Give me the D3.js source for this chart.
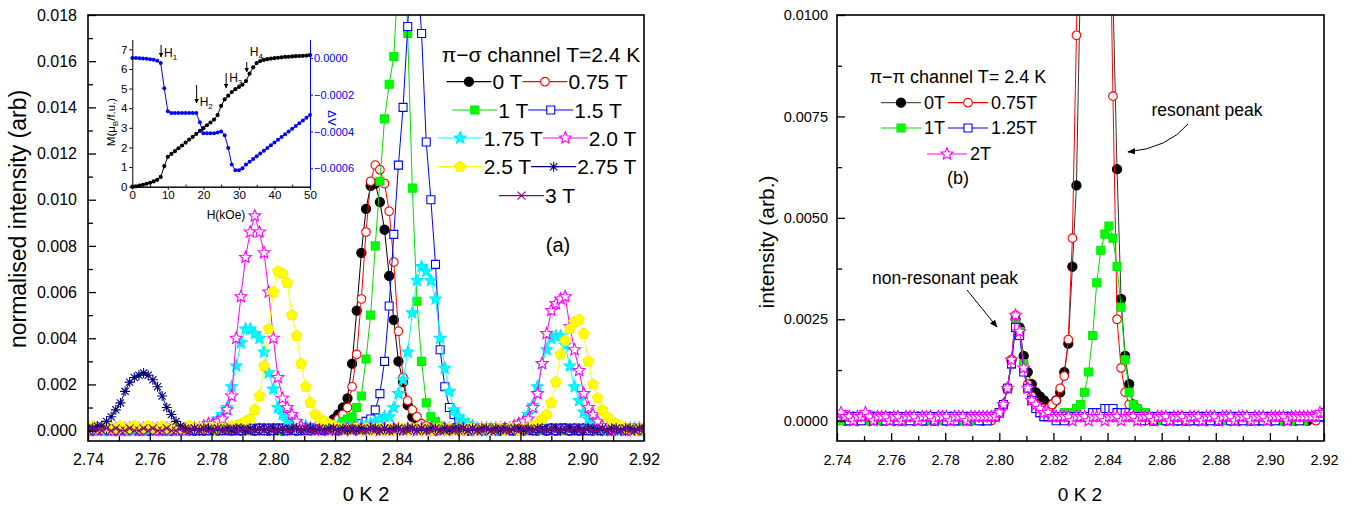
<!DOCTYPE html>
<html><head><meta charset="utf-8">
<script src="https://cdn.jsdelivr.net/npm/d3@7"></script>
<style>
body{margin:0;background:#fff}
svg{display:block;font-family:"Liberation Sans",Arial,Helvetica,sans-serif}
</style>
</head><body>
<svg id="c" width="1362" height="506"></svg>
<script>
// ---------------- DATA ----------------
// Scan positions along (0 K L): 121 samples from 2.740 to 2.920 (step 0.0015)
const gridStart = 2.74, gridStep = 0.0015, gridCount = 121;
const kGrid = d3.range(gridCount).map(i => +(gridStart + gridStep * i).toFixed(4));

const xTickValues = [2.74, 2.76, 2.78, 2.80, 2.82, 2.84, 2.86, 2.88, 2.90, 2.92];
const leftYTickValues = [0, 0.002, 0.004, 0.006, 0.008, 0.010, 0.012, 0.014, 0.016, 0.018];
const rightYTickValues = [0, 0.0025, 0.005, 0.0075, 0.01];

// ---- panel (a): pi-sigma channel, T = 2.4 K ----
const leftLabels = ["0 T", "0.75 T", "1 T", "1.5 T", "1.75 T", "2.0 T", "2.5 T", "2.75 T", "3 T"];
const sigma_0T = [
.0001,0,.0001,.0001,0,.0001,0,.0001,.0001,0,
.0001,0,.0001,0,.0001,.0001,0,.0001,0,.0001,
0,.0001,.0001,0,.0001,0,.0001,.0001,0,.0001,
.0001,0,.0001,0,.0001,.0001,0,.0001,.0001,0,
.0001,.0001,0,.0001,.0001,0,.0001,.0001,.0001,.0001,
.0001,.0002,.0003,.0005,.0007,.001,.0014,.0029,.0052,.0077,
.0096,.0106,.0107,.0099,.0087,.0067,.0048,.003,.0021,.0011,
.0006,.0003,.0002,.0001,.0001,0,.0001,0,.0001,.0001,
0,.0001,0,.0001,.0001,0,.0001,0,.0001,0,
.0001,.0001,0,.0001,0,.0001,.0001,0,.0001,0,
.0001,0,.0001,.0001,0,.0001,0,.0001,.0001,0,
.0001,0,.0001,0,.0001,.0001,0,.0001,0,.0001,
.0001];
const sigma_075T = [
0,.0001,0,.0001,.0001,0,.0001,0,0,.0001,
.0001,0,0,.0001,0,.0001,.0001,0,.0001,0,
.0001,0,.0001,0,0,.0001,0,.0001,0,.0001,
0,.0001,0,.0001,0,0,.0001,0,.0001,.0001,
0,.0001,.0001,0,.0001,0,.0001,.0001,0,.0001,
.0001,.0001,.0002,.0003,.0005,.0007,.001,.0019,.0033,.0057,
.0086,.0108,.0115,.0113,.0107,.0095,.0073,.0043,.0023,.0013,
.0009,.0006,.0003,.0002,.0001,0,.0001,.0001,0,.0001,
.0001,0,.0001,0,.0001,.0001,0,.0001,0,0,
.0001,0,.0001,.0001,0,.0001,0,.0001,.0001,0,
.0001,.0001,0,.0001,0,.0001,0,.0001,0,.0001,
0,.0001,.0001,0,.0001,0,.0001,.0001,0,.0001,
0];
const sigma_1T = [
.0001,.0001,0,.0001,0,.0001,.0001,0,.0001,0,
0,.0001,.0001,0,.0001,0,.0001,0,.0001,.0001,
0,.0001,0,.0001,.0001,0,.0001,0,.0001,0,
.0001,0,.0001,.0001,0,.0001,0,.0001,0,.0001,
.0001,0,.0001,0,.0001,.0001,0,.0001,0,.0001,
.0001,.0001,.0001,.0001,.0002,.0004,.0005,.0006,.001,.0015,
.0031,.005,.008,.0108,.0135,.015,.0162,.02,.023,.0172,
.0105,.0056,.003,.0012,.0006,.0004,.0002,.0001,0,.0001,
0,.0001,.0001,0,.0001,0,.0001,.0001,0,.0001,
0,.0001,0,.0001,.0001,0,.0001,0,.0001,.0001,
0,.0001,0,.0001,0,.0001,.0001,0,.0001,0,
.0001,.0001,0,.0001,0,.0001,0,.0001,.0001,0,
.0001];
const sigma_15T = [
0,.0001,.0001,0,.0001,0,.0001,.0001,0,.0001,
.0001,0,.0001,0,0,.0001,.0001,0,.0001,0,
.0001,.0001,0,.0001,0,.0001,0,.0001,.0001,0,
.0001,0,.0001,0,.0001,.0001,0,.0001,0,.0001,
0,.0001,.0001,0,.0001,0,.0001,0,.0001,.0001,
.0001,0,.0001,.0001,0,.0001,.0001,.0001,.0002,.0003,
.0004,.0005,.0009,.0016,.003,.0054,.0085,.0115,.014,.0175,
.021,.02,.0172,.0125,.01,.0072,.0035,.0019,.001,.0007,
.0005,.0003,.0002,.0001,.0001,0,.0001,.0001,0,.0001,
.0001,0,.0001,0,.0001,.0001,0,.0001,.0001,0,
.0001,0,.0001,.0001,0,.0001,0,.0001,0,.0001,
.0001,0,.0001,0,.0001,.0001,0,.0001,0,.0001,
0];
const sigma_175T = [
.0001,0,.0001,0,.0001,.0001,0,.0001,0,.0001,
0,.0001,.0001,0,.0001,0,.0001,.0001,0,.0001,
0,.0001,.0001,.0001,.0001,.0001,.0002,.0003,.0005,.0007,
.001,.0019,.0028,.0038,.0044,.0044,.0042,.004,.0034,.0025,
.0018,.001,.0007,.0004,.0003,.0002,.0001,.0002,.0001,.0001,
.0001,.0002,.0001,.0001,.0002,.0001,.0002,.0001,.0002,.0002,
.0002,.0003,.0004,.0005,.0006,.0006,.001,.0016,.0022,.0034,
.0051,.0065,.0071,.0069,.0065,.0057,.004,.0027,.0017,.0009,
.0006,.0004,.0003,.0002,.0001,.0001,0,.0001,.0001,0,
.0001,.0001,.0002,.0003,.0004,.0007,.0011,.0019,.0029,.0035,
.004,.0041,.0041,.0037,.0028,.0019,.0013,.0008,.0005,.0003,
.0002,.0001,0,.0001,.0001,0,.0001,0,.0001,.0001,
0];
const sigma_20T = [
0,.0001,0,.0001,.0001,0,.0001,0,.0001,.0001,
.0001,0,.0001,.0001,0,.0001,0,.0001,.0001,0,
.0001,0,.0001,.0001,.0001,.0002,.0003,.0003,.0004,.0005,
.0009,.0015,.004,.0058,.0075,.0086,.0093,.0086,.0077,.006,
.004,.0023,.0014,.001,.0007,.0004,.0002,.0001,.0001,0,
.0001,.0001,0,.0001,.0001,0,.0001,0,.0001,.0001,
0,.0001,.0001,0,.0001,0,.0001,.0001,0,.0001,
.0001,0,.0001,0,.0001,.0001,0,.0001,.0001,0,
.0001,.0001,0,.0001,0,.0001,.0001,0,.0001,.0001,
.0001,.0001,.0002,.0003,.0004,.0005,.001,.0016,.0029,.0042,
.0052,.0055,.0057,.0058,.0045,.0035,.0026,.0016,.001,.0007,
.0004,.0002,.0001,0,.0001,.0001,0,.0001,0,.0001,
.0001];
const sigma_25T = [
.0001,.0002,.0001,.0001,.0002,.0001,.0001,.0002,.0001,.0001,
.0002,.0001,.0001,.0002,.0001,.0001,.0002,.0001,.0001,.0002,
.0001,.0001,.0002,.0001,.0001,.0001,.0001,.0001,.0001,.0001,
.0001,.0002,.0002,.0003,.0004,.0005,.0009,.0015,.0028,.0044,
.006,.0069,.0068,.0064,.005,.0041,.0029,.0019,.0012,.0007,
.0005,.0004,.0003,.0002,.0001,.0001,0,.0001,.0001,0,
.0001,0,.0001,.0001,0,.0001,0,.0001,.0001,0,
.0001,.0001,0,.0001,0,.0001,.0001,0,.0001,0,
.0001,0,.0001,.0001,0,.0001,.0001,0,.0001,.0001,
0,.0001,.0001,0,.0001,.0001,.0002,.0003,.0005,.0007,
.0012,.0021,.0033,.0039,.0044,.0047,.0048,.0042,.003,.002,
.0014,.0009,.0006,.0004,.0003,.0002,.0001,.0001,0,.0001,
.0001];
const sigma_275T = [
.0001,.0001,.0002,.0002,.0004,.0006,.0009,.0012,.0017,.0021,
.0023,.0024,.0025,.0024,.0022,.0019,.0015,.001,.0007,.0004,
.0002,.0001,0,.0001,0,.0001,.0001,0,.0001,0,
.0001,0,.0001,.0001,0,.0001,0,.0001,0,.0001,
.0001,0,.0001,0,.0001,.0001,0,.0001,.0001,0,
.0001,0,.0001,.0001,0,.0001,0,.0001,0,.0001,
0,.0001,.0001,0,.0001,0,.0001,.0001,0,.0001,
.0001,0,.0001,0,.0001,.0001,0,.0001,0,.0001,
.0001,.0001,0,.0001,0,.0001,.0001,0,.0001,0,
.0001,0,.0001,.0001,0,.0001,0,.0001,.0001,0,
.0001,.0001,0,.0001,.0001,0,.0001,0,.0001,.0001,
0,.0001,0,.0001,.0001,0,.0001,.0001,0,.0001,
.0001];
const sigma_3T = [
0,.0001,0,0,.0001,0,.0001,0,0,.0001,
0,0,.0001,0,.0001,0,0,.0001,0,0,
.0001,0,0,.0001,0,.0001,0,0,.0001,0,
0,.0001,0,0,.0001,0,0,.0001,0,.0001,
0,0,.0001,0,0,.0001,0,.0001,0,0,
.0001,0,0,.0001,0,0,.0001,0,.0001,0,
0,.0001,0,0,.0001,0,0,.0001,0,0,
.0001,0,.0001,0,0,.0001,0,0,.0001,0,
0,.0001,0,.0001,0,0,.0001,0,0,.0001,
0,0,.0001,0,.0001,0,0,.0001,0,0,
.0001,0,0,.0001,0,.0001,0,0,.0001,0,
0,.0001,0,0,.0001,0,.0001,0,0,.0001,
0];

// ---- panel (b): pi-pi channel, T = 2.4 K ----
const rightLabels = ["0T", "0.75T", "1T", "1.25T", "2T"];
const pi_0T = [
.0001,.0001,0,.0001,.0001,0,.0001,.0001,0,.0001,
.0001,0,.0001,.0001,0,.0001,0,.0001,.0001,0,
.0001,.0001,0,.0001,0,.0001,.0001,0,.0001,.0001,
0,.0001,.0001,0,.0001,.0001,0,.0001,.0001,.0001,
.0002,.0004,.0008,.0015,.0025,.0023,.0016,.0012,.0009,.0007,
.0006,.0005,.0004,.0004,.0005,.0007,.0012,.0019,.0038,.0058,
.011,.017,.022,.024,.024,.022,.018,.016,.0105,.0062,
.003,.0016,.0009,.0004,.0003,.0002,.0001,.0001,0,.0001,
.0001,0,.0001,.0001,0,.0001,0,.0001,.0001,0,
.0001,0,.0001,.0001,0,.0001,.0001,0,.0001,0,
.0001,.0001,0,.0001,0,.0001,.0001,0,.0001,.0001,
0,.0001,.0001,0,.0001,.0001,0,.0001,.0001,.0001,
.0001];
const pi_075T = [
0,.0001,.0001,0,.0001,0,.0001,.0001,0,.0001,
.0001,.0001,0,.0001,0,.0001,.0001,0,.0001,0,
.0001,0,.0001,.0001,0,.0001,0,.0001,.0001,0,
.0001,.0001,0,.0001,.0001,0,.0001,.0001,0,.0001,
.0002,.0004,.0008,.0015,.0026,.0022,.0014,.0009,.0006,.0004,
.0003,.0003,.0003,.0004,.0005,.0008,.0011,.002,.0045,.0095,
.015,.021,.025,.026,.025,.022,.019,.014,.008,.0025,
.0013,.0007,.0004,.0002,.0001,.0001,0,.0001,.0001,0,
.0001,.0001,0,.0001,0,.0001,.0001,0,.0001,.0001,
0,.0001,.0001,0,.0001,0,.0001,.0001,0,.0001,
.0001,0,.0001,.0001,0,.0001,.0001,0,.0001,0,
.0001,.0001,0,.0001,.0001,0,.0001,.0001,0,.0001,
.0001];
const pi_1T = [
.0001,0,.0001,.0001,0,.0001,.0001,0,.0001,.0001,
0,.0001,.0001,0,.0001,.0001,0,.0001,0,.0001,
.0001,0,.0001,0,.0001,.0001,0,.0001,.0001,0,
.0001,0,.0001,.0001,0,.0001,.0001,0,.0001,.0001,
.0002,.0004,.0008,.0014,.0024,.0022,.0014,.0008,.0005,.0003,
.0002,.0001,.0001,.0001,.0001,.0001,.0002,.0002,.0002,.0003,
.0004,.0007,.0012,.0021,.0034,.0042,.0046,.0048,.0045,.0038,
.0028,.0015,.0007,.0004,.0003,.0002,.0002,.0001,.0001,0,
.0001,.0001,0,.0001,.0001,0,.0001,0,.0001,.0001,
0,.0001,.0001,0,.0001,.0001,0,.0001,0,.0001,
.0001,0,.0001,.0001,0,.0001,.0001,0,.0001,.0001,
0,.0001,.0001,0,.0001,0,.0001,.0001,.0001,.0001,
.0002];
const pi_125T = [
.0001,.0001,.0001,0,.0001,.0001,0,.0001,.0001,0,
.0001,.0001,0,.0001,.0001,0,.0001,.0001,0,.0001,
.0001,0,.0001,.0001,0,.0001,.0001,0,.0001,0,
.0001,.0001,0,.0001,.0001,0,.0001,0,.0001,.0001,
.0002,.0004,.0008,.0014,.0023,.0021,.0012,.0008,.0005,.0003,
.0002,.0001,.0001,.0001,0,.0001,0,.0001,.0001,.0001,
.0001,.0001,.0001,.0002,.0002,.0002,.0003,.0003,.0003,.0002,
.0002,.0002,.0001,.0001,.0001,0,.0001,.0001,0,.0001,
.0001,0,.0001,.0001,0,.0001,.0001,0,.0001,0,
.0001,.0001,0,.0001,0,.0001,.0001,0,.0001,.0001,
0,.0001,.0001,0,.0001,0,.0001,.0001,0,.0001,
.0001,0,.0001,.0001,0,.0001,.0001,.0001,.0001,.0001,
.0002];
const pi_2T = [
.0001,.0002,.0001,.0001,0,.0001,.0001,.0002,.0001,0,
.0001,.0001,.0001,0,.0001,.0001,0,.0001,.0001,.0001,
0,.0001,.0001,.0001,0,.0001,.0001,.0001,0,.0001,
.0001,.0001,0,.0001,.0001,.0001,.0001,.0001,.0001,.0001,
.0002,.0004,.0008,.0015,.0026,.0022,.0013,.0008,.0005,.0004,
.0003,.0002,.0002,.0001,.0001,.0001,.0001,.0001,0,.0001,
.0001,.0001,0,.0001,.0001,.0001,0,.0001,.0001,.0001,
0,.0001,.0001,.0001,0,.0001,.0001,.0001,0,.0001,
.0001,.0001,0,.0001,.0001,.0001,0,.0001,.0001,.0001,
0,.0001,.0001,.0001,0,.0001,.0001,.0001,0,.0001,
.0001,.0001,0,.0001,.0001,.0001,0,.0001,.0001,.0001,
.0001,0,.0001,.0001,.0001,.0001,.0001,.0001,.0001,.0002,
.0002];

// ---- inset: magnetisation M(H) and dV(H) ----
const insetH = d3.range(0, 51, 1); // field in kOe, 0..50
const insetM = [0,.02,.05,.1,.15,.2,.27,.35,.5,1.05,
1.52,1.67,1.81,1.96,2.1,2.25,2.4,2.54,2.69,2.84,
2.98,3.13,3.27,3.42,3.65,4.12,4.45,4.64,4.82,4.97,
5.08,5.2,5.38,5.76,6.08,6.3,6.4,6.46,6.5,6.53,
6.55,6.57,6.59,6.61,6.62,6.64,6.65,6.66,6.67,6.68,6.7];
const insetDV = [0,0,-.000002,-.000003,-.000005,-.000007,-.00001,-.000015,-.000028,-.000165,
-.00029,-.0003,-.0003,-.0003,-.0003,-.0003,-.0003,-.0003,-.0003,-.00035,
-.00041,-.00041,-.00041,-.00041,-.000405,-.0004,-.00042,-.00049,-.00058,-.00061,
-.00061,-.0006,-.00058,-.000565,-.00055,-.000535,-.00052,-.000505,-.00049,-.000475,
-.00046,-.000445,-.00043,-.000415,-.0004,-.000385,-.00037,-.000355,-.00034,-.000325,-.00031];
const insetXTicks = [0, 10, 20, 30, 40, 50];
const insetLTicks = [0, 1, 2, 3, 4, 5, 6, 7];
const insetRTicks = [0, -0.0002, -0.0004, -0.0006];
const insetArrows = [{H: 8.1, lab: "1"}, {H: 18.1, lab: "2"}, {H: 26.4, lab: "3"}, {H: 32.2, lab: "4"}];

// ---------------- DRAWING ----------------
const svg = d3.select("#c");
const FONT = '"Liberation Sans",Arial,Helvetica,sans-serif';
const defs = svg.append("defs");
defs.append("marker").attr("id", "ah").attr("viewBox", "0 0 10 10").attr("refX", 9).attr("refY", 5)
  .attr("markerWidth", 8).attr("markerHeight", 8).attr("markerUnits", "userSpaceOnUse").attr("orient", "auto")
  .append("path").attr("d", "M0,1L10,5L0,9Z").attr("fill", "#000");
defs.append("marker").attr("id", "ahs").attr("viewBox", "0 0 10 10").attr("refX", 9).attr("refY", 5)
  .attr("markerWidth", 4.5).attr("markerHeight", 4.5).attr("markerUnits", "userSpaceOnUse").attr("orient", "auto")
  .append("path").attr("d", "M0,0L10,5L0,10Z").attr("fill", "#000");

function shapePath(shape, r) {
  if (shape === "circle") return d3.symbol(d3.symbolCircle, Math.PI * r * r)();
  if (shape === "square") return `M${-r},${-r}h${2*r}v${2*r}h${-2*r}Z`;
  if (shape === "star") {
    const p = [];
    for (let k = 0; k < 10; k++) { const a = -Math.PI/2 + k*Math.PI/5, rr = k % 2 ? r*0.45 : r; p.push([rr*Math.cos(a), rr*Math.sin(a)]); }
    return "M" + p.join("L") + "Z";
  }
  if (shape === "pentagon") {
    const p = [];
    for (let k = 0; k < 5; k++) { const a = -Math.PI/2 + k*2*Math.PI/5; p.push([r*Math.cos(a), r*Math.sin(a)]); }
    return "M" + p.join("L") + "Z";
  }
  const a = r * 0.72;
  if (shape === "asterisk") return `M${-r},0H${r}M0,${-r}V${r}M${-a},${-a}L${a},${a}M${-a},${a}L${a},${-a}`;
  if (shape === "times") return `M${-r},${-r}L${r},${r}M${-r},${r}L${r},${-r}`;
}

const leftStyles = [
  {shape: "circle", r: 4.6, fill: "#000", stroke: "#000", line: "#000"},
  {shape: "circle", r: 4.3, fill: "#fff", stroke: "#ff0000", line: "#ff0000"},
  {shape: "square", r: 4, fill: "#00ff00", stroke: "#00ee00", line: "#00dd00"},
  {shape: "square", r: 4, fill: "#fff", stroke: "#0000ff", line: "#0000ff"},
  {shape: "star", r: 6.2, fill: "#00ffff", stroke: "#00e8ff", line: "#00ffff"},
  {shape: "star", r: 6.2, fill: "#fff", stroke: "#ff00ff", line: "#ff00ff"},
  {shape: "pentagon", r: 5.6, fill: "#ffff00", stroke: "#ffee00", line: "#ffff00"},
  {shape: "asterisk", r: 5, fill: "none", stroke: "#000080", line: "#000080"},
  {shape: "times", r: 4, fill: "none", stroke: "#800080", line: "#800080"}
];
const rightStyles = [
  {shape: "circle", r: 4.6, fill: "#000", stroke: "#000", line: "#333", legendLine: "#555"},
  {shape: "circle", r: 4.3, fill: "#fff", stroke: "#ff0000", line: "#ff0000"},
  {shape: "square", r: 4, fill: "#00ff00", stroke: "#00ee00", line: "#00dd00"},
  {shape: "square", r: 4, fill: "#fff", stroke: "#0000ff", line: "#0000ff"},
  {shape: "star", r: 6.2, fill: "#fff", stroke: "#ff00ff", line: "#ff00ff"}
];

function drawPanel(cfg) {
  const {x, y, series, styles, id} = cfg;
  const [x0, x1] = x.range(), [y1, y0] = y.range();
  defs.append("clipPath").attr("id", id).append("rect")
    .attr("x", x0).attr("y", y0).attr("width", x1 - x0).attr("height", y1 - y0);
  const g = svg.append("g").attr("clip-path", `url(#${id})`);
  series.forEach((vals, si) => {
    const st = styles[si];
    const pts = vals.map((v, i) => [kGrid[i], v]);
    const sg = g.append("g");
    sg.append("path").datum(pts)
      .attr("d", d3.line().x(d => x(d[0])).y(d => y(d[1])))
      .attr("fill", "none").attr("stroke", st.line).attr("stroke-width", 1);
    sg.selectAll("path.m").data(pts).join("path").attr("class", "m")
      .attr("d", shapePath(st.shape, st.r))
      .attr("transform", d => `translate(${x(d[0])},${y(d[1])})`)
      .attr("fill", st.fill).attr("stroke", st.stroke).attr("stroke-width", 1.1);
  });
}

function drawAxes(cfg) {
  const {x, y, yTicks, yMinor, xMinor, yFmt, yFont, xFont, xPad, yPad} = cfg;
  const [x0, x1] = x.range(), [y1, y0] = y.range();
  const ax = svg.append("g");
  const gy = ax.append("g").attr("transform", `translate(${x0},0)`)
    .call(d3.axisLeft(y).tickValues(yTicks).tickFormat(yFmt).tickSize(-8).tickSizeOuter(0).tickPadding(yPad));
  gy.select(".domain").remove();
  gy.selectAll("text").attr("font-size", yFont).attr("font-family", FONT).attr("fill", "#000");
  gy.selectAll("line").attr("stroke-width", 1.3);
  const gym = ax.append("g").attr("transform", `translate(${x0},0)`)
    .call(d3.axisLeft(y).tickValues(yMinor).tickFormat("").tickSize(-5).tickSizeOuter(0));
  gym.select(".domain").remove();
  gym.selectAll("line").attr("stroke-width", 1.3);
  const gx = ax.append("g").attr("transform", `translate(0,${y1})`)
    .call(d3.axisBottom(x).tickValues(xTickValues).tickFormat(d3.format(".2f")).tickSize(-8).tickSizeOuter(0).tickPadding(xPad));
  gx.select(".domain").remove();
  gx.selectAll("text").attr("font-size", xFont).attr("font-family", FONT).attr("fill", "#000");
  gx.selectAll("line").attr("stroke-width", 1.3);
  const gxm = ax.append("g").attr("transform", `translate(0,${y1})`)
    .call(d3.axisBottom(x).tickValues(xMinor).tickFormat("").tickSize(-5).tickSizeOuter(0));
  gxm.select(".domain").remove();
  gxm.selectAll("line").attr("stroke-width", 1.3);
  ax.append("rect").attr("x", x0).attr("y", y0).attr("width", x1 - x0).attr("height", y1 - y0)
    .attr("fill", "none").attr("stroke", "#000").attr("stroke-width", 1.6);
}

function legendRow(g, items, cx, cy, o) {
  const row = g.append("g");
  let xx = 0;
  items.forEach(it => {
    const st = it.style;
    row.append("line").attr("x1", xx).attr("x2", xx + o.line).attr("y1", 0).attr("y2", 0)
      .attr("stroke", st.legendLine || st.line).attr("stroke-width", 1.2);
    row.append("path").attr("d", shapePath(st.shape, st.r)).attr("transform", `translate(${xx + o.line/2},0)`)
      .attr("fill", st.fill).attr("stroke", st.stroke).attr("stroke-width", 1.1);
    xx += o.line + o.gap;
    const t = row.append("text").attr("x", xx).attr("y", o.fs * 0.36).attr("font-size", o.fs).text(it.label);
    xx += t.node().getComputedTextLength() + o.after;
  });
  row.attr("transform", `translate(${cx - (xx - o.after)/2},${cy})`);
}

// ---- panel (a) ----
const xL = d3.scaleLinear([2.74, 2.92], [88, 644]);
const yL = d3.scaleLinear([-0.00045, 0.018], [441, 15]);
drawPanel({x: xL, y: yL, id: "clipL", styles: leftStyles,
  series: [sigma_0T, sigma_075T, sigma_1T, sigma_15T, sigma_175T, sigma_20T, sigma_25T, sigma_275T, sigma_3T]});
drawAxes({x: xL, y: yL, yTicks: leftYTickValues, yMinor: [0.001,0.003,0.005,0.007,0.009,0.011,0.013,0.015,0.017],
  xMinor: [2.75,2.77,2.79,2.81,2.83,2.85,2.87,2.89,2.91], yFmt: d3.format(".3f"), yFont: 16, xFont: 16, xPad: 13, yPad: 11});
svg.append("text").attr("transform", "translate(26,219) rotate(-90)").attr("text-anchor", "middle")
  .attr("font-size", 23).text("normalised intensity (arb)");
svg.append("text").attr("x", 366).attr("y", 501).attr("text-anchor", "middle").attr("font-size", 20).text("0 K 2");

// legend (a)
const legA = svg.append("g").attr("font-family", FONT);
legA.append("text").attr("x", 541).attr("y", 62).attr("text-anchor", "middle").attr("font-size", 21).text("π−σ channel T=2.4 K");
const rowsA = [[0, 1], [2, 3], [4, 5], [6, 7], [8]];
const rowYA = [81.7, 110, 138, 166.7, 195.7];
rowsA.forEach((r, ri) => legendRow(legA, r.map(i => ({style: leftStyles[i], label: leftLabels[i]})), 537, rowYA[ri],
  {line: 45, gap: 1, after: 0, fs: 21}));
svg.append("text").attr("x", 558).attr("y", 252).attr("text-anchor", "middle").attr("font-size", 20).text("(a)");

// ---- inset ----
const inX = d3.scaleLinear([0, 50], [132.3, 310]);
const inYL = d3.scaleLinear([0, 7.5], [186.7, 39.5]);
const inYR = d3.scaleLinear([-0.0007, 0.0001], [186.7, 39.5]);
const ins = svg.append("g").attr("font-family", FONT);
ins.append("path").datum(insetH.map((h, i) => [h, insetDV[i]]))
  .attr("d", d3.line().x(d => inX(d[0])).y(d => inYR(d[1]))).attr("fill", "none").attr("stroke", "#0000ff").attr("stroke-width", 1);
ins.selectAll("circle.b").data(insetH.map((h, i) => [h, insetDV[i]])).join("circle").attr("class", "b")
  .attr("cx", d => inX(d[0])).attr("cy", d => inYR(d[1])).attr("r", 2).attr("fill", "#0000ff");
ins.append("path").datum(insetH.map((h, i) => [h, insetM[i]]))
  .attr("d", d3.line().x(d => inX(d[0])).y(d => inYL(d[1]))).attr("fill", "none").attr("stroke", "#000").attr("stroke-width", 1);
ins.selectAll("circle.k").data(insetH.map((h, i) => [h, insetM[i]])).join("circle").attr("class", "k")
  .attr("cx", d => inX(d[0])).attr("cy", d => inYL(d[1])).attr("r", 2.1).attr("fill", "#000");
// inset axes
const iaL = ins.append("g").attr("transform", "translate(132.3,0)")
  .call(d3.axisLeft(inYL).tickValues(insetLTicks).tickFormat(d3.format("d")).tickSize(3).tickSizeOuter(0).tickPadding(2));
const iaB = ins.append("g").attr("transform", "translate(0,186.7)")
  .call(d3.axisBottom(inX).tickValues(insetXTicks).tickFormat(d3.format("d")).tickSize(3).tickSizeOuter(0).tickPadding(1));
const iaBm = ins.append("g").attr("transform", "translate(0,186.7)")
  .call(d3.axisBottom(inX).tickValues([5,15,25,35,45]).tickFormat("").tickSize(-2).tickSizeOuter(0));
const iaR = ins.append("g").attr("transform", "translate(310,0)")
  .call(d3.axisRight(inYR).tickValues(insetRTicks).tickFormat(d3.format(".4f")).tickSize(3).tickSizeOuter(0).tickPadding(1));
[iaL, iaB, iaBm].forEach(a => { a.selectAll("text").attr("font-size", 11.5).attr("font-family", FONT).attr("fill", "#000"); a.selectAll("path,line").attr("stroke", "#000"); });
iaR.selectAll("text").attr("font-size", 11).attr("font-family", FONT).attr("fill", "#0000ff");
iaR.selectAll("path,line").attr("stroke", "#0000ff");
ins.append("text").attr("x", 226).attr("y", 219).attr("text-anchor", "middle").attr("font-size", 12).text("H(kOe)");
const mt = ins.append("text").attr("transform", "translate(115,122) rotate(-90)").attr("text-anchor", "middle").attr("font-size", 11.5);
mt.append("tspan").text("M(μ");
mt.append("tspan").attr("dy", 2.5).attr("font-size", 8).text("B");
mt.append("tspan").attr("dy", -2.5).text("/f.u.)");
ins.append("text").attr("transform", "translate(328,118) rotate(90)").attr("text-anchor", "middle")
  .attr("font-size", 11.5).attr("fill", "#0000ff").text("ΔV");
// field markers H1..H4
const arrowGeom = [[45, 57, 57], [85, 103, 106], [73, 88, 82], [62, 72, 56]];
insetArrows.forEach((a, i) => {
  const [ya, yb, ty] = arrowGeom[i];
  const xa = inX(a.H);
  ins.append("line").attr("x1", xa).attr("x2", xa).attr("y1", ya).attr("y2", yb)
    .attr("stroke", "#000").attr("stroke-width", 1).attr("marker-end", "url(#ahs)");
  const t = ins.append("text").attr("x", xa + 3).attr("y", ty).attr("font-size", 12);
  t.append("tspan").text("H");
  t.append("tspan").attr("dy", 3).attr("font-size", 8).text(a.lab);
});

// ---- panel (b) ----
const xR = d3.scaleLinear([2.74, 2.92], [837, 1324]);
const yR = d3.scaleLinear([-0.0005, 0.01], [441, 15]);
drawPanel({x: xR, y: yR, id: "clipR", styles: rightStyles, series: [pi_0T, pi_075T, pi_1T, pi_125T, pi_2T]});
drawAxes({x: xR, y: yR, yTicks: rightYTickValues, yMinor: [0.00125, 0.00375, 0.00625, 0.00875],
  xMinor: [2.75,2.77,2.79,2.81,2.83,2.85,2.87,2.89,2.91], yFmt: d3.format(".4f"), yFont: 14.5, xFont: 14.5, xPad: 14, yPad: 9});
svg.append("text").attr("transform", "translate(774,242) rotate(-90)").attr("text-anchor", "middle")
  .attr("font-size", 21).text("intensity (arb.)");
svg.append("text").attr("x", 1080).attr("y", 501).attr("text-anchor", "middle").attr("font-size", 19).text("0 K 2");

const legB = svg.append("g").attr("font-family", FONT);
legB.append("text").attr("x", 958).attr("y", 83).attr("text-anchor", "middle").attr("font-size", 18).text("π−π channel T= 2.4 K");
const rowsB = [[0, 1], [2, 3], [4]];
const rowYB = [102.7, 128, 154];
rowsB.forEach((r, ri) => legendRow(legB, r.map(i => ({style: rightStyles[i], label: rightLabels[i]})), 959, rowYB[ri],
  {line: 40, gap: 3, after: 3, fs: 18}));
legB.append("text").attr("x", 958).attr("y", 184).attr("text-anchor", "middle").attr("font-size", 18).text("(b)");

// annotations
svg.append("text").attr("x", 1207).attr("y", 116).attr("text-anchor", "middle").attr("font-size", 17.5).text("resonant peak");
svg.append("path").attr("d", "M1188,124 Q1168,148 1128,152").attr("fill", "none").attr("stroke", "#000")
  .attr("stroke-width", 1).attr("marker-end", "url(#ah)");
svg.append("text").attr("x", 945).attr("y", 284).attr("text-anchor", "middle").attr("font-size", 17.5).text("non-resonant peak");
svg.append("line").attr("x1", 967).attr("y1", 290).attr("x2", 997).attr("y2", 327).attr("stroke", "#000")
  .attr("stroke-width", 1).attr("marker-end", "url(#ah)");
svg.selectAll("text").attr("font-family", FONT);
</script>
</body></html>
